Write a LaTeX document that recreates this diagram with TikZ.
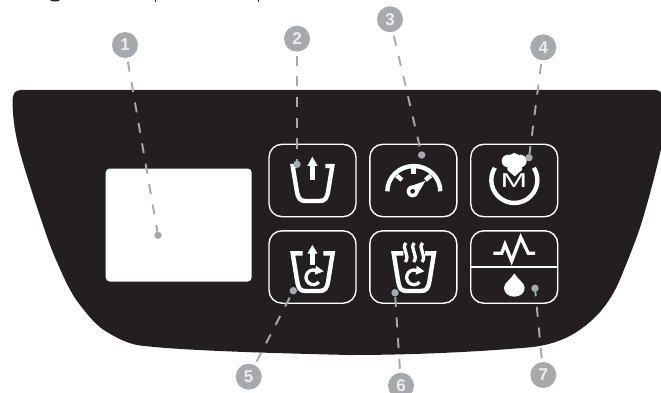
\documentclass[tikz,border=0pt]{standalone}
\usepackage{fontspec}
\setmainfont{Liberation Sans}
\definecolor{panel}{HTML}{231F20}
\definecolor{leadgray}{HTML}{A7A9AC}
\definecolor{digit}{HTML}{EDEDEE}
\tikzset{
  badge/.style={circle,fill=leadgray,minimum size=26pt,inner sep=0pt,outer sep=4pt,text=digit,font=\fontsize{17}{17}\selectfont\bfseries},
  leaddot/.style={circle,fill=leadgray,minimum size=7.4pt,inner sep=0pt,outer sep=0pt},
  leader/.style={draw=leadgray,line width=1.9pt,dash pattern=on 10pt off 10.7pt},
  keybox/.style={draw=white,line width=1.4pt,rounded corners=13pt,inner sep=0pt},
  icon/.style={draw=white,line width=4.4pt,line join=miter},
  thinicon/.style={draw=white,line width=3.3pt,line join=miter},
  solid white/.style={fill=white,draw=none},
}
\begin{document}
\begin{tikzpicture}[x=1pt,y=-1pt]
\useasboundingbox (0,0) rectangle (661,393);
\clip (0,0) rectangle (661,393);
% clipped remains of a line of text at the top edge
\fill[panel] (50,0) .. controls (51,2) and (59,2) .. (60,0) -- cycle;
\fill[panel] (154.5,0) rectangle (155.7,2.4);
\fill[panel] (257.7,0) rectangle (258.9,2.4);
% panel
\fill[panel] (21,90) -- (655,90) .. controls (660,90) and (662,93) .. (663,97) -- (663,140)
 .. controls (660,155) and (650,195) .. (643,218)
 .. controls (638,235) and (630,255) .. (623,272)
 .. controls (618,285) and (612,298) .. (600,312)
 .. controls (577,337) and (555,344) .. (533,347)
 .. controls (490,351) and (420,355) .. (350,355)
 .. controls (220,352) and (170,349) .. (140,345.5)
 .. controls (130,344) and (120,340) .. (107,332)
 .. controls (98,327) and (90,318) .. (80,305)
 .. controls (70,292) and (65,280) .. (57,262)
 .. controls (50,247) and (43,225) .. (33,195)
 .. controls (22,160) and (13,135) .. (12.5,102)
 .. controls (12.3,94) and (15,90) .. (21,90) -- cycle;
% display
\node[fill=white,rounded corners=4pt,minimum width=146pt,minimum height=113pt,inner sep=0pt] (display) at (178.7,225) {};
% keys
\node[keybox,minimum width=87pt,minimum height=72.4pt] (k2) at (312.5,180.5) {};
\node[keybox,minimum width=87pt,minimum height=72.4pt] (k3) at (413.3,180.5) {};
\node[keybox,minimum width=87pt,minimum height=72.4pt] (k4) at (514.2,180.5) {};
\node[keybox,minimum width=87pt,minimum height=72.4pt] (k5) at (312.5,267) {};
\node[keybox,minimum width=87pt,minimum height=72.4pt] (k6) at (413.3,267) {};
\node[keybox,minimum width=87pt,minimum height=72.4pt] (k7) at (514.2,267) {};
\draw[white,line width=1.3pt] (k7.west) -- (k7.east);
% cup icon
\begin{scope}[shift={(260,130)},scale=0.33333]
\draw[icon] (109,108) -- (98,108) -- (110,180) .. controls (114,206) and (120,213) .. (137,213) -- (178,213) .. controls (195,213) and (201,206) .. (205,180) -- (217,108) -- (196,108);
\draw[icon] (157,150) -- (157,100);
\fill[solid white] (142,108) -- (157,80) -- (173,108) -- cycle;
% gauge
\draw[icon] (382,184) arc[start angle=180,end angle=360,x radius=79.5,y radius=76];
\draw[icon] (461,112) -- (461,132);
\draw[icon] (410,137) -- (426,150);
\draw[icon] (512,137) -- (496,150);
\fill[solid white] (448,170) -- (497,152) -- (472,193) -- cycle;
\fill[solid white] (458,184) circle[radius=18];
\fill[panel] (458,184) circle[radius=7];
\end{scope}
% chef / M icon
\begin{scope}[shift={(460,130)},scale=0.33333]
\draw[icon] (104.5,113.4) arc[start angle=212,end angle=-32,radius=69];
\fill[solid white] (144,93) circle[radius=19];
\fill[solid white] (163,86) circle[radius=17];
\fill[solid white] (181,93) circle[radius=19];
\fill[solid white] (142,100) -- (186,100) -- (186,120) -- (164,139) -- (142,120) -- cycle;
\node[text=white,inner sep=0pt,font=\fontsize{20}{20}\selectfont] (mletter) at (162,151) {\scalebox{1.6}[1]{M}};
% pulse and drop
\draw[thinicon] (100,370) -- (125,370) -- (135,343) -- (155,393) -- (182,322) -- (205,370) -- (225,370);
\fill[solid white] (163,430) .. controls (172,448) and (194,458) .. (194,473) .. controls (194,490) and (180,500) .. (163,500) .. controls (146,500) and (132,490) .. (132,473) .. controls (132,458) and (154,448) .. (163,430) -- cycle;
\end{scope}
% recycle cup icons
\begin{scope}[shift={(260,220)},scale=0.33333]
\draw[icon] (128,100) -- (98,100) -- (111,180) .. controls (115,206) and (120,213) .. (137,213) -- (178,213) .. controls (195,213) and (201,206) .. (205,180) -- (218,100) -- (190,100);
\draw[icon] (157,135) -- (157,95);
\fill[solid white] (142,101) -- (157,75) -- (173,101) -- cycle;
\draw[thinicon] (174.1,155.1) arc[start angle=-50,end angle=-320,radius=22];
\fill[solid white] (168,137) -- (191,154) -- (165,164) -- cycle;
% heat icon
\draw[icon] (430,100) -- (401,100) -- (414,180) .. controls (418,206) and (423,213) .. (440,213) -- (482,213) .. controls (499,213) and (505,206) .. (509,180) -- (522,100) -- (495,100);
\draw[thinicon] (476.1,155.1) arc[start angle=-50,end angle=-320,radius=22];
\fill[solid white] (470,137) -- (493,154) -- (467,164) -- cycle;
\foreach \sx in {437,462,487}{
  \draw[thinicon] ({\sx+1},69) .. controls ({\sx-15},85) and ({\sx+15},105) .. ({\sx-1},126);
}
\end{scope}
% leaders
\node[leaddot] (d1) at (158,235.3) {};
\node[leaddot] (d2) at (297,164.3) {};
\node[leaddot] (d3) at (421.7,155) {};
\node[leaddot] (d4) at (529,157.7) {};
\node[leaddot] (d5) at (293.3,290.7) {};
\node[leaddot] (d6) at (395,292.7) {};
\node[leaddot] (d7) at (535,288.3) {};
\node[badge] (b1) at (125,45) {1};
\node[badge] (b2) at (297,38.7) {2};
\node[badge] (b3) at (390,19.3) {3};
\node[badge] (b4) at (543.3,47.3) {4};
\node[badge] (b5) at (248.7,376.7) {5};
\node[badge] (b6) at (401,385.7) {6};
\node[badge] (b7) at (543.3,375) {7};
\foreach \n in {1,...,7}{ \draw[leader] (b\n) -- (d\n); }
\end{tikzpicture}
\end{document}
